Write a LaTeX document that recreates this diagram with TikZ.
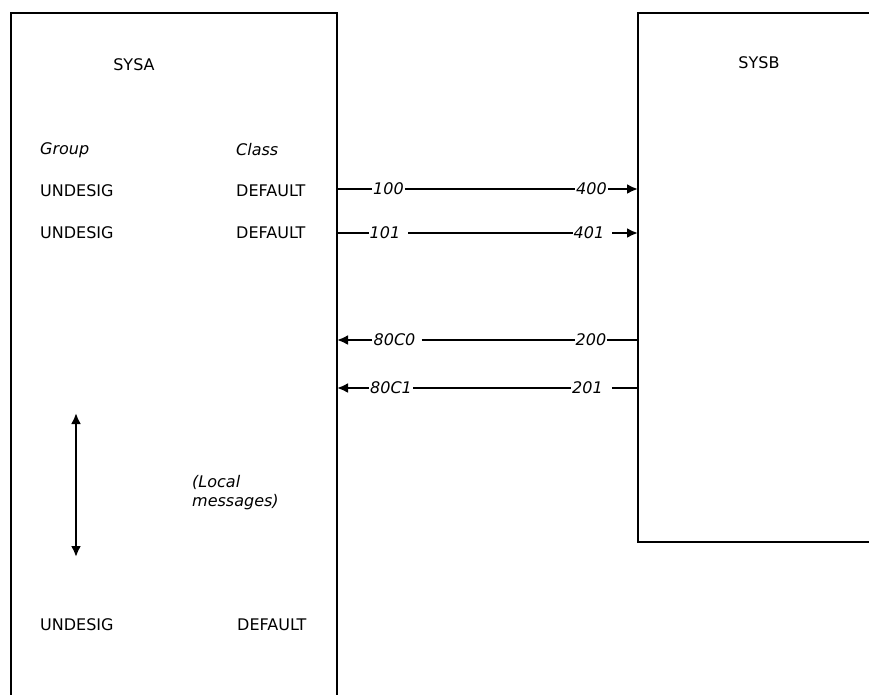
\documentclass[tikz,border=0pt]{standalone}
\usepackage{fontspec}
\setmainfont{DejaVu Sans}
\usetikzlibrary{arrows.meta}
\begin{document}
\begin{tikzpicture}[x=1pt,y=-1pt,
  txt/.style={inner sep=0pt,anchor=west,font=\fontsize{16}{19}\selectfont},
  ital/.style={txt,font=\fontsize{16}{19}\selectfont\itshape},
  lab/.style={inner xsep=1pt,inner ysep=0pt,font=\fontsize{16}{19}\selectfont\itshape},
  sysbox/.style={line width=2.8pt,line join=miter},
  conn/.style={line width=2.5pt},
  tip/.style={-{Latex[length=11pt,width=10pt]}}
]
\useasboundingbox (0,0) rectangle (869,694);
% boxes
\draw[sysbox] (11,700) -- (11,13) -- (337,13) -- (337,700);
\draw[sysbox] (875,13) -- (638,13) -- (638,542) -- (875,542);
% titles
\node[txt,anchor=center] (sysa) at (134,65) {SYSA};
\node[txt,anchor=center] (sysb) at (759,63) {SYSB};
\node[ital] (group) at (40,150) {Group};
\node[ital] (class) at (236,150) {Class};
\node[txt] (g1) at (40,191) {UNDESIG};
\node[txt] (c1) at (236,191) {DEFAULT};
\node[txt] (g2) at (40,233) {UNDESIG};
\node[txt] (c2) at (236,233) {DEFAULT};
\node[txt] (g3) at (40,625) {UNDESIG};
\node[txt] (c3) at (237,625) {DEFAULT};
\node[ital,align=left] (local) at (192,493) {(Local\\messages)};
% edge coordinates
\coordinate (a1) at (337,189); \coordinate (b1) at (638,189);
\coordinate (a2) at (337,233); \coordinate (b2) at (638,233);
\coordinate (a3) at (337,340); \coordinate (b3) at (638,340);
\coordinate (a4) at (337,388); \coordinate (b4) at (638,388);
% labels
\node[lab] (n100) at (388.5,189) {100};
\node[lab] (n400) at (591.5,189) {400};
\node[lab] (n101) at (385,233) {101};
\node[lab] (n401) at (589,233) {401};
\node[lab] (n80c0) at (394.5,340) {80C0};
\node[lab] (n200) at (591,340) {200};
\node[lab] (n80c1) at (391,388) {80C1};
\node[lab] (n201) at (587.5,388) {201};
% connectors
\draw[conn] (a1) -- (n100.west);
\draw[conn] (n100.east) -- (n400.west);
\draw[conn,tip] (n400.east) -- (b1);
\draw[conn] (a2) -- (n101.west);
\draw[conn,shorten <=7pt] (n101.east) -- (n401.west);
\draw[conn,tip,shorten <=7pt] (n401.east) -- (b2);
\draw[conn,tip] (n80c0.west) -- (a3);
\draw[conn,shorten <=5pt] (n80c0.east) -- (n200.west);
\draw[conn] (n200.east) -- (b3);
\draw[conn,tip] (n80c1.west) -- (a4);
\draw[conn] (n80c1.east) -- (n201.west);
\draw[conn,shorten <=8pt] (n201.east) -- (b4);
% local messages arrow
\coordinate (lt) at (76,413);
\coordinate (lb) at (76,557);
\draw[conn,{Latex[length=11pt,width=10pt]}-{Latex[length=11pt,width=10pt]}] (lt) -- (lb);
\end{tikzpicture}
\end{document}
